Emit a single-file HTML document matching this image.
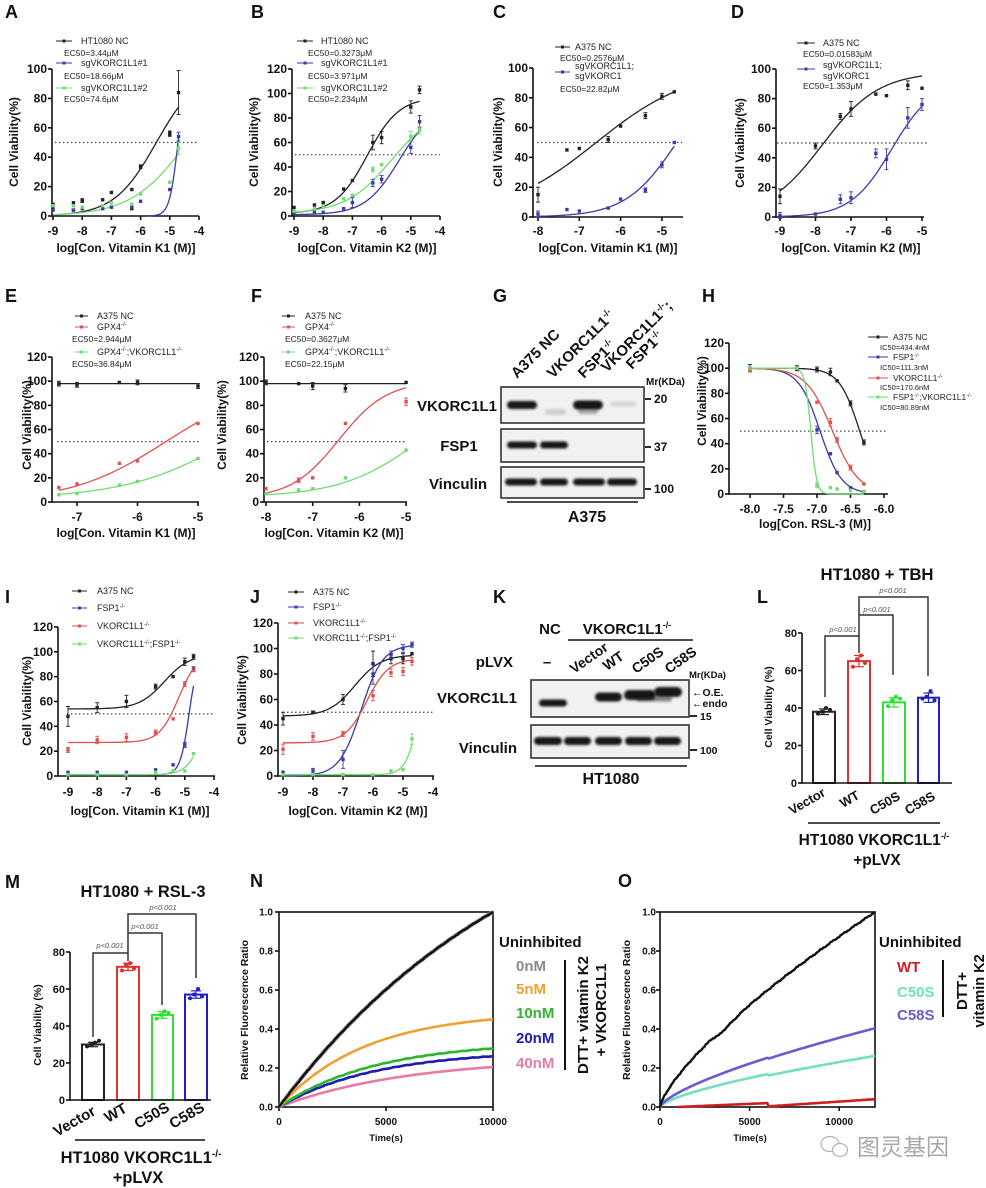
<!DOCTYPE html>
<html><head><meta charset="utf-8">
<style>
html,body{margin:0;padding:0;background:#fff;}
svg{display:block;font-family:"Liberation Sans",Arial,sans-serif;}
.b{font-weight:bold;}
.t{font-size:12px;font-weight:bold;fill:#111;}
.tn{font-size:12px;font-weight:bold;fill:#111;text-anchor:middle;}
.te{font-size:12px;font-weight:bold;fill:#111;text-anchor:end;}
.lg{font-size:9px;fill:#222;}
.ec{font-size:8.5px;fill:#222;}
.yl{font-size:12px;font-weight:bold;fill:#111;text-anchor:middle;}
.xl{font-size:12px;font-weight:bold;fill:#111;text-anchor:middle;}
.let{font-size:18px;font-weight:bold;fill:#111;}
.p{font-size:7.5px;font-style:italic;fill:#555;text-anchor:middle;}
</style></head>
<body>
<svg id="s" width="986" height="1188" viewBox="0 0 986 1188" xmlns="http://www.w3.org/2000/svg">
<defs><filter id="bl" x="-20%" y="-50%" width="140%" height="200%"><feGaussianBlur stdDeviation="1.3"/></filter></defs>
<rect width="986" height="1188" fill="#fff"/>

<!-- Panel letters -->
<text class="let" x="5" y="18">A</text>
<text class="let" x="251" y="18">B</text>
<text class="let" x="493" y="18">C</text>
<text class="let" x="731" y="18">D</text>
<text class="let" x="5" y="302">E</text>
<text class="let" x="251" y="302">F</text>
<text class="let" x="493" y="302">G</text>
<text class="let" x="702" y="302">H</text>
<text class="let" x="5" y="603">I</text>
<text class="let" x="250" y="603">J</text>
<text class="let" x="493" y="603">K</text>
<text class="let" x="757" y="603">L</text>
<text class="let" x="5" y="888">M</text>
<text class="let" x="250" y="887">N</text>
<text class="let" x="618" y="887">O</text>

<!-- ===== A ===== -->
<text class="te" x="47" y="220">0</text><text class="te" x="47" y="190.6">20</text><text class="te" x="47" y="161.2">40</text><text class="te" x="47" y="131.8">60</text><text class="te" x="47" y="102.4">80</text><text class="te" x="47" y="73">100</text>
<text class="tn" x="53" y="235">-9</text><text class="tn" x="82.2" y="235">-8</text><text class="tn" x="111.4" y="235">-7</text><text class="tn" x="140.6" y="235">-6</text><text class="tn" x="169.8" y="235">-5</text><text class="tn" x="199" y="235">-4</text>
<text class="xl" x="126" y="252">log[Con. Vitamin K1 (M)]</text>
<text class="yl" transform="translate(18,142) rotate(-90)">Cell Viability(%)</text>
<text class="lg" x="81" y="44">HT1080 NC</text>
<text class="ec" x="64" y="56">EC50=3.44μM</text>
<text class="lg" x="81" y="66">sgVKORC1L1#1</text>
<text class="ec" x="64" y="79">EC50=18.66μM</text>
<text class="lg" x="81" y="91">sgVKORC1L1#2</text>
<text class="ec" x="64" y="102">EC50=74.6μM</text>

<!-- ===== B ===== -->
<text class="te" x="287" y="220">0</text><text class="te" x="287" y="195.5">20</text><text class="te" x="287" y="171">40</text><text class="te" x="287" y="146.5">60</text><text class="te" x="287" y="122">80</text><text class="te" x="287" y="97.5">100</text><text class="te" x="287" y="73">120</text>
<text class="tn" x="294" y="235">-9</text><text class="tn" x="323.2" y="235">-8</text><text class="tn" x="352.4" y="235">-7</text><text class="tn" x="381.6" y="235">-6</text><text class="tn" x="410.8" y="235">-5</text><text class="tn" x="440" y="235">-4</text>
<text class="xl" x="367" y="252">log[Con. Vitamin K2 (M)]</text>
<text class="yl" transform="translate(258,142) rotate(-90)">Cell Viability(%)</text>
<text class="lg" x="321" y="44">HT1080 NC</text>
<text class="ec" x="308" y="56">EC50=0.3273μM</text>
<text class="lg" x="321" y="66">sgVKORC1L1#1</text>
<text class="ec" x="308" y="79">EC50=3.971μM</text>
<text class="lg" x="321" y="91">sgVKORC1L1#2</text>
<text class="ec" x="308" y="102">EC50=2.234μM</text>

<!-- ===== C ===== -->
<text class="te" x="528" y="221">0</text><text class="te" x="528" y="191.2">20</text><text class="te" x="528" y="161.4">40</text><text class="te" x="528" y="131.6">60</text><text class="te" x="528" y="101.8">80</text><text class="te" x="528" y="72">100</text>
<text class="tn" x="538" y="235">-8</text><text class="tn" x="579.3" y="235">-7</text><text class="tn" x="620.6" y="235">-6</text><text class="tn" x="661.9" y="235">-5</text>
<text class="xl" x="608" y="252">log[Con. Vitamin K1 (M)]</text>
<text class="yl" transform="translate(502,142) rotate(-90)">Cell Viability(%)</text>
<text class="lg" x="575" y="50">A375 NC</text>
<text class="ec" x="560" y="61">EC50=0.2576μM</text>
<text class="lg" x="575" y="69">sgVKORC1L1;</text>
<text class="lg" x="575" y="79">sgVKORC1</text>
<text class="ec" x="560" y="92">EC50=22.82μM</text>

<!-- ===== D ===== -->
<text class="te" x="771" y="221">0</text><text class="te" x="771" y="191.4">20</text><text class="te" x="771" y="161.8">40</text><text class="te" x="771" y="132.2">60</text><text class="te" x="771" y="102.6">80</text><text class="te" x="771" y="73">100</text>
<text class="tn" x="780" y="235">-9</text><text class="tn" x="815.5" y="235">-8</text><text class="tn" x="851" y="235">-7</text><text class="tn" x="886.5" y="235">-6</text><text class="tn" x="922" y="235">-5</text>
<text class="xl" x="851" y="252">log[Con. Vitamin K2 (M)]</text>
<text class="yl" transform="translate(744,143) rotate(-90)">Cell Viability(%)</text>
<text class="lg" x="823" y="46">A375 NC</text>
<text class="ec" x="803" y="57">EC50=0.01583μM</text>
<text class="lg" x="823" y="68">sgVKORC1L1;</text>
<text class="lg" x="823" y="79">sgVKORC1</text>
<text class="ec" x="803" y="89">EC50=1.353μM</text>

<!-- ===== E ===== -->
<text class="te" x="47" y="506">0</text><text class="te" x="47" y="481.8">20</text><text class="te" x="47" y="457.7">40</text><text class="te" x="47" y="433.5">60</text><text class="te" x="47" y="409.4">80</text><text class="te" x="47" y="385.2">100</text><text class="te" x="47" y="361">120</text>
<text class="tn" x="77" y="521">-7</text><text class="tn" x="137.5" y="521">-6</text><text class="tn" x="198" y="521">-5</text>
<text class="xl" x="126" y="537">log[Con. Vitamin K1 (M)]</text>
<text class="yl" transform="translate(31,425) rotate(-90)">Cell Viability(%)</text>
<text class="lg" x="97" y="319">A375 NC</text>
<text class="lg" x="97" y="330">GPX4<tspan dy="-4" font-size="6">-/-</tspan></text>
<text class="ec" x="72" y="342">EC50=2.944μM</text>
<text class="lg" x="97" y="355">GPX4<tspan dy="-4" font-size="6">-/-</tspan><tspan dy="4">;VKORC1L1</tspan><tspan dy="-4" font-size="6">-/-</tspan></text>
<text class="ec" x="72" y="367">EC50=36.84μM</text>

<!-- ===== F ===== -->
<text class="te" x="259" y="506">0</text><text class="te" x="259" y="481.8">20</text><text class="te" x="259" y="457.7">40</text><text class="te" x="259" y="433.5">60</text><text class="te" x="259" y="409.4">80</text><text class="te" x="259" y="385.2">100</text><text class="te" x="259" y="361">120</text>
<text class="tn" x="266" y="521">-8</text><text class="tn" x="312.7" y="521">-7</text><text class="tn" x="359.4" y="521">-6</text><text class="tn" x="406.1" y="521">-5</text>
<text class="xl" x="334" y="537">log[Con. Vitamin K2 (M)]</text>
<text class="yl" transform="translate(226,425) rotate(-90)">Cell Viability(%)</text>
<text class="lg" x="305" y="319">A375 NC</text>
<text class="lg" x="305" y="330">GPX4<tspan dy="-4" font-size="6">-/-</tspan></text>
<text class="ec" x="285" y="342">EC50=0.3627μM</text>
<text class="lg" x="305" y="355">GPX4<tspan dy="-4" font-size="6">-/-</tspan><tspan dy="4">;VKORC1L1</tspan><tspan dy="-4" font-size="6">-/-</tspan></text>
<text class="ec" x="285" y="367">EC50=22.15μM</text>

<!-- ===== G (blot) ===== -->
<g class="b" font-size="15" fill="#111">
<text transform="translate(517,379) rotate(-45)">A375 NC</text>
<text transform="translate(553,379) rotate(-45)">VKORC1L1<tspan dy="-6" font-size="9">-/-</tspan></text>
<text transform="translate(584,379) rotate(-45)">FSP1<tspan dy="-6" font-size="9">-/-</tspan></text>
<text transform="translate(607,373) rotate(-45)">VKORC1L1<tspan dy="-6" font-size="9">-/-</tspan><tspan dy="6">;</tspan></text>
<text transform="translate(632,370) rotate(-45)">FSP1<tspan dy="-6" font-size="9">-/-</tspan></text>
<text x="497" y="411" text-anchor="end">VKORC1L1</text>
<text x="459" y="451" text-anchor="middle">FSP1</text>
<text x="458" y="489" text-anchor="middle">Vinculin</text>
<text x="587" y="522" text-anchor="middle" font-size="16">A375</text>
</g>
<text x="646" y="385" font-size="10" font-weight="bold" fill="#111">Mr(KDa)</text>
<g font-size="12" font-weight="bold" fill="#111">
<text x="654" y="403">20</text><text x="654" y="451">37</text><text x="654" y="493">100</text>
</g>

<!-- ===== H ===== -->
<text class="te" x="724" y="498">0</text><text class="te" x="724" y="472.8">20</text><text class="te" x="724" y="447.7">40</text><text class="te" x="724" y="422.5">60</text><text class="te" x="724" y="397.4">80</text><text class="te" x="724" y="372.2">100</text><text class="te" x="724" y="347">120</text>
<text class="tn" x="750" y="513">-8.0</text><text class="tn" x="783.5" y="513">-7.5</text><text class="tn" x="817" y="513">-7.0</text><text class="tn" x="850.5" y="513">-6.5</text><text class="tn" x="884" y="513">-6.0</text>
<text class="xl" x="815" y="528">log[Con. RSL-3 (M)]</text>
<text class="yl" transform="translate(706,401) rotate(-90)">Cell Viability(%)</text>
<g font-size="8.5" fill="#222">
<text x="893" y="340">A375 NC</text>
<text x="880" y="350" font-size="7.5">IC50=434.4nM</text>
<text x="893" y="360">FSP1<tspan dy="-3" font-size="5.5">-/-</tspan></text>
<text x="880" y="370" font-size="7.5">IC50=111.3nM</text>
<text x="893" y="381">VKORC1L1<tspan dy="-3" font-size="5.5">-/-</tspan></text>
<text x="880" y="390" font-size="7.5">IC50=170.6nM</text>
<text x="893" y="400">FSP1<tspan dy="-3" font-size="5.5">-/-</tspan><tspan dy="3">;VKORC1L1</tspan><tspan dy="-3" font-size="5.5">-/-</tspan></text>
<text x="880" y="410" font-size="7.5">IC50=80.89nM</text>
</g>

<!-- ===== I ===== -->
<text class="te" x="53" y="780">0</text><text class="te" x="53" y="755.2">20</text><text class="te" x="53" y="730.3">40</text><text class="te" x="53" y="705.5">60</text><text class="te" x="53" y="680.6">80</text><text class="te" x="53" y="655.8">100</text><text class="te" x="53" y="631">120</text>
<text class="tn" x="68" y="796">-9</text><text class="tn" x="97.2" y="796">-8</text><text class="tn" x="126.4" y="796">-7</text><text class="tn" x="155.6" y="796">-6</text><text class="tn" x="184.8" y="796">-5</text><text class="tn" x="214" y="796">-4</text>
<text class="xl" x="140" y="815">log[Con. Vitamin K1 (M)]</text>
<text class="yl" transform="translate(31,701) rotate(-90)">Cell Viability(%)</text>
<g font-size="9" fill="#222">
<text x="97" y="594">A375 NC</text>
<text x="97" y="611">FSP1<tspan dy="-3" font-size="6">-/-</tspan></text>
<text x="97" y="629">VKORC1L1<tspan dy="-3" font-size="6">-/-</tspan></text>
<text x="97" y="647">VKORC1L1<tspan dy="-3" font-size="6">-/-</tspan><tspan dy="3">;FSP1</tspan><tspan dy="-3" font-size="6">-/-</tspan></text>
</g>

<!-- ===== J ===== -->
<text class="te" x="273" y="780">0</text><text class="te" x="273" y="754.5">20</text><text class="te" x="273" y="729">40</text><text class="te" x="273" y="703.5">60</text><text class="te" x="273" y="678">80</text><text class="te" x="273" y="652.5">100</text><text class="te" x="273" y="627">120</text>
<text class="tn" x="283" y="796">-9</text><text class="tn" x="313" y="796">-8</text><text class="tn" x="343" y="796">-7</text><text class="tn" x="373" y="796">-6</text><text class="tn" x="403" y="796">-5</text><text class="tn" x="433" y="796">-4</text>
<text class="xl" x="358" y="815">log[Con. Vitamin K2 (M)]</text>
<text class="yl" transform="translate(246,700) rotate(-90)">Cell Viability(%)</text>
<g font-size="9" fill="#222">
<text x="313" y="595">A375 NC</text>
<text x="313" y="610">FSP1<tspan dy="-3" font-size="6">-/-</tspan></text>
<text x="313" y="626">VKORC1L1<tspan dy="-3" font-size="6">-/-</tspan></text>
<text x="313" y="641">VKORC1L1<tspan dy="-3" font-size="6">-/-</tspan><tspan dy="3">;FSP1</tspan><tspan dy="-3" font-size="6">-/-</tspan></text>
</g>

<!-- ===== K (blot) ===== -->
<g font-weight="bold" fill="#111" font-size="15">
<text x="550" y="634" text-anchor="middle">NC</text>
<text x="627" y="634" text-anchor="middle">VKORC1L1<tspan dy="-6" font-size="9">-/-</tspan></text>
<text x="513" y="667" text-anchor="end">pLVX</text>
<text x="547" y="667" text-anchor="middle">–</text>
<text x="517" y="703" text-anchor="end">VKORC1L1</text>
<text x="517" y="753" text-anchor="end">Vinculin</text>
<text x="611" y="784" text-anchor="middle" font-size="16">HT1080</text>
<text transform="translate(574,674) rotate(-35)" font-size="14">Vector</text>
<text transform="translate(607,671) rotate(-35)" font-size="14">WT</text>
<text transform="translate(636,674) rotate(-35)" font-size="14">C50S</text>
<text transform="translate(669,674) rotate(-35)" font-size="14">C58S</text>
</g>
<g font-weight="bold" fill="#111" font-size="10.5">
<text x="689" y="678" font-size="9.5">Mr(KDa)</text>
<text x="692" y="696">←O.E.</text>
<text x="692" y="707">←endo</text>
<text x="700" y="720">15</text>
<text x="700" y="754">100</text>
</g>

<!-- ===== L ===== -->
<text x="877" y="580" text-anchor="middle" font-size="17" font-weight="bold" fill="#111" textLength="113" lengthAdjust="spacingAndGlyphs">HT1080 + TBH</text>
<g font-size="11" font-weight="bold" fill="#111" text-anchor="end">
<text x="797" y="787">0</text><text x="797" y="749.5">20</text><text x="797" y="712">40</text><text x="797" y="674.5">60</text><text x="797" y="637">80</text>
</g>
<text class="yl" transform="translate(772,707) rotate(-90)" style="font-size:10.5px">Cell Viability (%)</text>
<text class="p" x="843" y="632">p&lt;0.001</text>
<text class="p" x="877" y="612">p&lt;0.001</text>
<text class="p" x="893" y="593">p&lt;0.001</text>
<g font-weight="bold" fill="#111" font-size="13">
<text transform="translate(792,815) rotate(-30)">Vector</text>
<text transform="translate(843,808) rotate(-30)">WT</text>
<text transform="translate(873,815) rotate(-30)">C50S</text>
<text transform="translate(908,815) rotate(-30)">C58S</text>
<text x="874" y="845" text-anchor="middle" font-size="15.5">HT1080 VKORC1L1<tspan dy="-6" font-size="9">-/-</tspan></text>
<text x="877" y="865" text-anchor="middle" font-size="15.5">+pLVX</text>
</g>

<!-- ===== M ===== -->
<text x="143" y="897" text-anchor="middle" font-size="16.5" font-weight="bold" fill="#111" textLength="125" lengthAdjust="spacingAndGlyphs">HT1080 + RSL-3</text>
<g font-size="11" font-weight="bold" fill="#111" text-anchor="end">
<text x="65" y="1104">0</text><text x="65" y="1067">20</text><text x="65" y="1030">40</text><text x="65" y="993">60</text><text x="65" y="956">80</text>
</g>
<text class="yl" transform="translate(41,1025) rotate(-90)" style="font-size:10.5px">Cell Viability (%)</text>
<text class="p" x="110" y="948">p&lt;0.001</text>
<text class="p" x="145" y="929">p&lt;0.001</text>
<text class="p" x="163" y="910">p&lt;0.001</text>
<g font-weight="bold" fill="#111" font-size="15">
<text transform="translate(57,1137) rotate(-30)">Vector</text>
<text transform="translate(108,1123) rotate(-30)">WT</text>
<text transform="translate(138,1129) rotate(-30)">C50S</text>
<text transform="translate(173,1129) rotate(-30)">C58S</text>
<text x="141" y="1163" text-anchor="middle" font-size="16.5">HT1080 VKORC1L1<tspan dy="-6" font-size="10">-/-</tspan></text>
<text x="138" y="1183" text-anchor="middle" font-size="16.5">+pLVX</text>
</g>

<!-- ===== N ===== -->
<g font-size="10" font-weight="bold" fill="#111" text-anchor="end">
<text x="273" y="1110.5">0.0</text><text x="273" y="1071.5">0.2</text><text x="273" y="1032.5">0.4</text><text x="273" y="993.5">0.6</text><text x="273" y="954.5">0.8</text><text x="273" y="915.5">1.0</text>
</g>
<g font-size="10" font-weight="bold" fill="#111" text-anchor="middle">
<text x="279" y="1125">0</text><text x="386" y="1125">5000</text><text x="493" y="1125">10000</text>
<text x="386" y="1141" font-size="9.5">Time(s)</text>
</g>
<text transform="translate(248,1010) rotate(-90)" text-anchor="middle" font-size="10.5" font-weight="bold" fill="#111">Relative Fluorescence Ratio</text>
<g font-weight="bold" font-size="15">
<text x="499" y="947" fill="#111">Uninhibited</text>
<text x="516" y="971" fill="#8a8a8a">0nM</text>
<text x="516" y="994" fill="#f0a030">5nM</text>
<text x="516" y="1018" fill="#2db52d">10nM</text>
<text x="516" y="1043" fill="#1c1cb0">20nM</text>
<text x="516" y="1068" fill="#e87aa8">40nM</text>
<text transform="translate(588,1015) rotate(-90)" text-anchor="middle" font-size="15" fill="#111">DTT+ vitamin K2</text>
<text transform="translate(606,1010) rotate(-90)" text-anchor="middle" font-size="15" fill="#111">+ VKORC1L1</text>
</g>

<!-- ===== O ===== -->
<g font-size="10" font-weight="bold" fill="#111" text-anchor="end">
<text x="656" y="1110.5">0.0</text><text x="656" y="1071.5">0.2</text><text x="656" y="1032.5">0.4</text><text x="656" y="993.5">0.6</text><text x="656" y="954.5">0.8</text><text x="656" y="915.5">1.0</text>
</g>
<g font-size="10" font-weight="bold" fill="#111" text-anchor="middle">
<text x="660" y="1125">0</text><text x="749.6" y="1125">5000</text><text x="839.2" y="1125">10000</text>
<text x="750" y="1141" font-size="9.5">Time(s)</text>
</g>
<text transform="translate(630,1010) rotate(-90)" text-anchor="middle" font-size="10.5" font-weight="bold" fill="#111">Relative Fluorescence Ratio</text>
<g font-weight="bold" font-size="15">
<text x="879" y="947" fill="#111">Uninhibited</text>
<text x="897" y="972" fill="#cc2020">WT</text>
<text x="897" y="997" fill="#6fe0c0">C50S</text>
<text x="897" y="1020" fill="#6a5ccc">C58S</text>
<text transform="translate(967,991) rotate(-90)" text-anchor="middle" font-size="15" fill="#111">DTT+</text>
<text transform="translate(984,991) rotate(-90)" text-anchor="middle" font-size="14.5" fill="#111">vitamin K2</text>
</g>
<!-- watermark -->
<g fill="none" stroke="#b0b0b0" stroke-width="1.2">
<ellipse cx="830" cy="1144" rx="9" ry="7.5"/>
<ellipse cx="840" cy="1150" rx="7.5" ry="6.5" fill="#fff"/>
</g>
<text x="857" y="1155" font-family="'Liberation Sans','Noto Sans CJK SC',sans-serif" font-size="23" fill="#a8a8a8">图灵基因</text>

<g id="geo"></g>
</svg>

<script>
(function(){
const NS='http://www.w3.org/2000/svg';
const G=document.getElementById('geo');
function E(t,a){const e=document.createElementNS(NS,t);for(const k in a)e.setAttribute(k,a[k]);G.appendChild(e);return e;}
function L(x1,y1,x2,y2,c,w,ex){const o={x1:x1,y1:y1,x2:x2,y2:y2,stroke:c||'#111','stroke-width':w||1.6};if(ex)for(const k in ex)o[k]=ex[k];return E('line',o);}
function P(x0,xv0,bx,y0,by){return{X:function(v){return x0+(v-xv0)*bx;},Y:function(v){return y0-v*by;}};}
function sig(b,t,ec,h){return function(x){return b+(t-b)/(1+Math.pow(10,(ec-x)*h));};}
function cst(v){return function(){return v;};}
function curve(p,f,a,b,c,w){let d='';const n=100;for(let i=0;i<=n;i++){const x=a+(b-a)*i/n;d+=(i?'L':'M')+p.X(x).toFixed(1)+' '+p.Y(f(x)).toFixed(1);}E('path',{d:d,fill:'none',stroke:c,'stroke-width':w||1.3});}
function pts(p,arr,c){arr.forEach(function(q){const x=p.X(q[0]),y=p.Y(q[1]);if(q[2]){const a=p.Y(q[1]+q[2]),b=p.Y(q[1]-q[2]);L(x,a,x,b,c,0.9);L(x-2,a,x+2,a,c,0.9);L(x-2,b,x+2,b,c,0.9);}E('rect',{x:x-1.7,y:y-1.7,width:3.4,height:3.4,fill:c});});}
function axes(p,ax,ymax,ystep,xe,xt){L(ax,p.Y(0)+0.8,ax,p.Y(ymax));for(let v=0;v<=ymax+1e-6;v+=ystep)L(ax-4,p.Y(v),ax,p.Y(v));L(ax,p.Y(0),xe,p.Y(0));xt.forEach(function(v){L(p.X(v),p.Y(0),p.X(v),p.Y(0)+4);});}
function dash(p,a,b){L(a,p.Y(50),b,p.Y(50),'#444',1.2,{'stroke-dasharray':'1.5 2.5'});}
function leg(x1,x2,y,c){L(x1,y,x2,y,c,1);E('rect',{x:(x1+x2)/2-1.5,y:y-1.5,width:3,height:3,fill:c});}
const K='#222',BL='#3a3aa8',GR='#72dc72',RD='#e05050';

// A
let p=P(53,-9,29.2,216,1.47);
axes(p,52,100,20,199,[-9,-8,-7,-6,-5,-4]);dash(p,55,199);
curve(p,sig(0,100,-5.46,0.6),-9,-4.7,K);curve(p,sig(0,100,-4.4,0.45),-9,-4.7,GR);curve(p,sig(0,100,-4.72,3),-5.8,-4.7,BL);
pts(p,[[-9,8],[-9,5],[-8.3,9],[-8.3,4],[-8,11],[-8,10],[-7.3,11],[-7,16],[-6.3,18],[-6.3,5],[-6,33],[-6,34],[-5,55],[-5,57],[-4.7,84,15]],K);
pts(p,[[-9,4],[-8.3,4],[-8,5],[-7.3,5],[-7,6],[-6.3,6],[-6,10],[-5,18],[-4.7,54,3]],BL);
pts(p,[[-9,7],[-8.3,7],[-8,6],[-7.3,7],[-7,9],[-6.3,8],[-6,15],[-5,23],[-4.7,46,4]],GR);
leg(56,72,41,K);leg(56,72,63,BL);leg(56,72,88,GR);

// B
p=P(294,-9,29.2,216,1.225);
axes(p,292,120,20,440,[-9,-8,-7,-6,-5,-4]);dash(p,295,440);
curve(p,sig(2,97,-6.49,0.8),-9,-4.7,K);curve(p,sig(1,90,-5.4,0.75),-9,-4.7,BL);curve(p,sig(2,90,-5.65,0.55),-9,-4.7,GR);
pts(p,[[-9,7],[-8.3,9],[-8,11],[-7.3,22],[-7,29],[-6.3,60,6],[-6,64,5],[-5,89,5],[-4.7,103,3]],K);
pts(p,[[-9,2],[-8.3,3],[-8,3],[-7.3,6],[-7,11,4],[-6.3,27,3],[-6,30,3],[-5,56,5],[-4.7,77,5]],BL);
pts(p,[[-9,4],[-8.3,6],[-8,8],[-7.3,14],[-7,17],[-6.3,38,2],[-6,42],[-5,65,4],[-4.7,70,3]],GR);
leg(297,313,41,K);leg(297,313,63,BL);leg(297,313,88,GR);

// C
p=P(538,-8,41.3,217,1.49);
axes(p,533,100,20,683,[-8,-7,-6,-5]);dash(p,537,682);
curve(p,sig(0,100,-6.59,0.38),-8,-4.7,K);curve(p,sig(0,100,-4.64,0.7),-8,-4.7,BL);
pts(p,[[-8,15,5],[-7.3,45],[-7,46],[-6.3,52,2],[-6,61],[-5.4,68,2],[-5,81,2],[-4.7,84]],K);
pts(p,[[-8,2,2],[-7.3,5],[-7,4],[-6.3,6],[-6,12],[-5.4,18,1.5],[-5,35,2],[-4.7,50]],BL);
leg(555,570,47,K);leg(555,570,72,BL);

// D
p=P(780,-9,35.5,217,1.48);
axes(p,776,100,20,924,[-9,-8,-7,-6,-5]);dash(p,777,927);
curve(p,sig(0,98,-7.8,0.55),-9,-5,K);curve(p,sig(0,92,-5.85,0.75),-9,-5,BL);
pts(p,[[-9,14,5],[-8,48,2],[-7.3,68,2],[-7,73,5],[-6.3,83],[-6,82],[-5.4,89,3],[-5,87]],K);
pts(p,[[-9,1,2],[-8,2],[-7.3,12,3],[-7,13,4],[-6.3,43,3],[-6,39,7],[-5.4,67,7],[-5,76,4]],BL);
leg(797,815,43,K);leg(797,815,69,BL);

// E
p=P(77,-7,60.5,502,1.208);
axes(p,52,120,20,199,[-7,-6,-5]);dash(p,57,200);
curve(p,cst(98),-7.3,-5,K);curve(p,sig(0,100,-5.53,0.55),-7.3,-5,RD);curve(p,sig(3,100,-4.43,0.5),-7.3,-5,GR);
pts(p,[[-7.3,98,2],[-7,97,2],[-6.3,99],[-6,99,2],[-5,96,2]],K);
pts(p,[[-7.3,12],[-7,15],[-6.3,32],[-6,34],[-5,65]],RD);
pts(p,[[-7.3,6],[-7,7],[-6.3,14],[-6,17],[-5,36]],GR);
leg(75,88,316,K);leg(75,88,327,RD);leg(75,88,352,GR);

// F
p=P(266,-8,46.7,502,1.208);
axes(p,264,120,20,407,[-8,-7,-6,-5]);dash(p,267,405);
curve(p,cst(98),-8,-5,K);curve(p,sig(3,100,-6.44,0.85),-8,-5,RD);curve(p,sig(4,100,-4.65,0.5),-8,-5,GR);
pts(p,[[-8,99,2],[-7.3,98],[-7,96,3],[-6.3,94,3],[-5,99]],K);
pts(p,[[-8,11],[-7.3,18,2],[-7,20],[-6.3,65],[-5,83,3]],RD);
pts(p,[[-8,7],[-7.3,10],[-7,11],[-6.3,20],[-5,43]],GR);
leg(282,295,316,K);leg(282,295,327,RD);leg(282,295,352,GR);

// H
p=P(750,-8,67,494,1.258);
axes(p,729,120,20,888,[-8,-7.5,-7,-6.5,-6]);dash(p,740,888);
curve(p,sig(0,100,-6.362,-2.84),-8,-6.3,K);curve(p,sig(0,100,-6.954,-2.7),-8,-6.3,BL);curve(p,sig(0,100,-6.768,-2.2),-8,-6.3,RD);curve(p,sig(0,100,-7.092,-10),-8,-6.3,GR);
pts(p,[[-8,100,3],[-7.3,100,2],[-7,99,2],[-6.8,97,3],[-6.7,90],[-6.5,72,2],[-6.3,41,2]],K);
pts(p,[[-8,100],[-7.3,100],[-7,51,3],[-6.8,32],[-6.7,17],[-6.5,5],[-6.3,2]],BL);
pts(p,[[-8,98],[-7.3,100],[-7,73],[-6.8,57,3],[-6.7,43,2],[-6.5,21,2],[-6.3,8]],RD);
pts(p,[[-8,100],[-7.3,100],[-7,7,2],[-6.8,5],[-6.7,4],[-6.5,3],[-6.3,2]],GR);
leg(868,888,337,K);leg(868,888,357,BL);leg(868,888,378,RD);leg(868,888,397,GR);

// I
p=P(68,-9,29.2,776,1.242);
axes(p,58,120,20,215,[-9,-8,-7,-6,-5,-4]);dash(p,67,213);
curve(p,sig(54,98,-5.7,1),-9,-4.7,K);curve(p,sig(27,100,-5.2,1.3),-9,-4.7,RD);curve(p,sig(1,100,-4.85,2.8),-9,-4.7,BL);curve(p,sig(1,100,-4.2,1.5),-9,-4.7,GR);
pts(p,[[-9,48,8],[-8,55,4],[-7,60,5],[-6,72,2],[-5.4,80],[-5,92,3],[-4.7,96,2]],K);
pts(p,[[-9,3],[-8,3],[-7,3],[-6,5],[-5.4,9],[-5,25,2],[-4.7,86,2]],BL);
pts(p,[[-9,21,2],[-8,29,3],[-7,31,3],[-6,35,2],[-5.4,46],[-5,74,2],[-4.7,85]],RD);
pts(p,[[-9,1],[-8,1],[-7,1],[-6,3],[-5.4,4],[-5,4],[-4.7,18]],GR);
leg(72,87,591,K);leg(72,87,608,BL);leg(72,87,626,RD);leg(72,87,644,GR);

// J
p=P(283,-9,30,776,1.275);
axes(p,278,120,20,434,[-9,-8,-7,-6,-5,-4]);dash(p,283,433);
curve(p,sig(47,95,-6.6,1),-9,-4.7,K);curve(p,sig(0,103,-6.4,1.2),-9,-4.7,BL);curve(p,sig(26,92,-6.2,1.2),-9,-4.7,RD);curve(p,sig(1,100,-4.45,2),-9,-4.7,GR);
pts(p,[[-9,45,5],[-8,50,1],[-7,60,4],[-6,88,10],[-5.4,92,4],[-5,92,4],[-4.7,96]],K);
pts(p,[[-9,3],[-8,4,2],[-7,13,7],[-6,80,8],[-5.4,95,3],[-5,100,3],[-4.7,103,2]],BL);
pts(p,[[-9,21,4],[-8,31,3],[-7,33,2],[-6,63,4],[-5.4,81,3],[-5,82,3],[-4.7,90,3]],RD);
pts(p,[[-9,1],[-8,1],[-7,1],[-6,1],[-5.4,4],[-5,5],[-4.7,29,4]],GR);
leg(288,304,592,K);leg(288,304,607,BL);leg(288,304,623,RD);leg(288,304,638,GR);

// Blots
function box(x1,y1,x2,y2){E('rect',{x:x1,y:y1,width:x2-x1,height:y2-y1,fill:'#f1f1f1',stroke:'#333','stroke-width':1.6});}
function band(x1,x2,y,h,op,c){E('rect',{x:x1,y:y-h/2,width:x2-x1,height:h,rx:h/2,fill:c||'#151515','fill-opacity':op||1,filter:'url(#bl)'});}
// G
box(501,387,644,423);box(501,429,644,462);box(501,467,644,498);
band(507,537,405,8);band(545,566,412,6,0.15);band(573,603,405,9);band(578,598,411,6,0.35);band(610,636,404,5,0.12);
band(507,537,445,7);band(540,568,445,7);
band(505,537,482,7);band(540,568,482,7);band(573,605,482,7);band(607,637,482,7);
L(645,399,651,399,'#111',1.8);L(645,447,651,447,'#111',1.8);L(645,489,651,489,'#111',1.8);
L(507,502,638,502,'#111',1.4);
// K
box(531,680,689,717);box(531,725,689,758);
band(539,567,703,7);band(595,622,697,9);band(624,656,695,10);band(654,682,692,10);band(636,672,699,5,0.5);
band(534,562,741,8);band(564,591,741,8);band(595,622,741,8);band(625,652,741,8);band(654,681,741,8);
L(690,716,697,716,'#111',1.8);L(690,750,697,750,'#111',1.8);
L(568,640,693,640,'#111',1.4);L(535,766,687,766,'#111',1.4);

// Bars
function bars(y0,by,ax,xe,ymax,list){
 L(ax,y0+0.8,ax,y0-ymax*by,'#111',1.6);for(let v=0;v<=ymax;v+=20)L(ax-4,y0-v*by,ax,y0-v*by,'#111',1.6);
 list.forEach(function(b){const x1=b[0],x2=b[1],v=b[2],c=b[3];E('rect',{x:x1,y:y0-v*by,width:x2-x1,height:v*by,fill:'#fff',stroke:c,'stroke-width':2});
  const cx=(x1+x2)/2;const e=b[5];L(cx,y0-(v+e)*by,cx,y0-(v-e)*by,c,1.2);L(cx-5,y0-(v+e)*by,cx+5,y0-(v+e)*by,c,1.2);L(cx-5,y0-(v-e)*by,cx+5,y0-(v-e)*by,c,1.2);
  b[4].forEach(function(d,i){E('circle',{cx:cx-6+i*4,cy:y0-d*by,r:2,fill:c});});});
 L(ax,y0,xe,y0,'#111',1.6);}
bars(783,1.875,802,952,80,[[813,835,38,'#222',[37,38,40,39],1.5],[848,870,65,'#e03030',[62,66,68,64],3],[883,905,43,'#30e030',[41,44,46,45],2.5],[918,939,45.5,'#2020c0',[45,46,49,44],2.5]]);
bars(1100,1.85,70,211,80,[[82,104,30,'#222',[29,30,31,32],1.2],[117,139,72,'#e03030',[70,73,74,71],2],[152,173,46,'#30e030',[44,46,48,47],1.8],[185,207,57,'#2020c0',[55,57,60,56],2]]);
// brackets L
function br(pts){let d='';pts.forEach(function(q,i){d+=(i?'L':'M')+q[0]+' '+q[1];});E('path',{d:d,fill:'none',stroke:'#333','stroke-width':1.5});}
br([[825,697],[825,636],[859,636],[859,653]]);
br([[859,636],[859,615],[893,615],[893,675]]);
br([[859,615],[859,597],[928,597],[928,676]]);
L(808,823,940,823,'#111',1.4);
// brackets M
br([[93,1037],[93,953],[128,953],[128,961]]);
br([[128,953],[128,933],[162,933],[162,1005]]);
br([[128,933],[128,914],[196,914],[196,978]]);
L(75,1140,205,1140,'#111',1.4);

// N
function frame(x1,x2,y1,y2,tx){E('rect',{x:x1,y:y1,width:x2-x1,height:y2-y1,fill:'none',stroke:'#111','stroke-width':1.6});
 for(let i=0;i<=5;i++)L(x1-4,y2-i*(y2-y1)/5,x1,y2-i*(y2-y1)/5,'#111',1.6);tx.forEach(function(x){L(x,y2,x,y2+4,'#111',1.6);});}
frame(279,493,912,1107,[279,386,493]);
function kin(x0,sx,f,a,b,c,w,noise){let d='';const n=150;for(let i=0;i<=n;i++){const t=a+(b-a)*i/n;let v=f(t);if(noise)v+=noise*Math.sin(i*1.7)*Math.cos(i*0.9);d+=(i?'L':'M')+(x0+t*sx).toFixed(1)+' '+(1107-v*195).toFixed(1);}E('path',{d:d,fill:'none',stroke:c,'stroke-width':w||2.6,'stroke-linejoin':'round'});}
const sN=214/10000;
function ex(A,tau){return function(t){return A*(1-Math.exp(-t/tau));};}
kin(279,sN,function(t){return (1-Math.exp(-t/12000))/(1-Math.exp(-10000/12000));},0,10000,'#8a8a8a',4);
kin(279,sN,ex(0.253,6000),0,10000,'#e87aa8',2.6);
kin(279,sN,ex(0.292,4500),0,10000,'#1c1cb0',2.6,0.002);
kin(279,sN,ex(0.337,4500),0,10000,'#2db52d',2.6,0.002);
kin(279,sN,ex(0.49,4000),0,10000,'#f0a030',2.6);
kin(279,sN,function(t){return (1-Math.exp(-t/12000))/(1-Math.exp(-10000/12000));},0,10000,'#111',2.4,0.003);
L(565,960,565,1070,'#111',2);

// O
frame(660,875,912,1107,[660,749.6,839.2]);
const sO=215/12000;
kin(660,sO,function(t){return t<1000?0:(t<6000?0.02*(t-1000)/5000:0.003+0.037*(t-6000)/6000);},1000,12000,'#cc2020',2.6);
kin(660,sO,function(t){let v=0.27*Math.pow(t/12000,0.68);if(t>6000)v-=0.008;return v;},0,12000,'#6fe0c0',2.6);
kin(660,sO,function(t){let v=0.41*Math.pow(t/12000,0.7);if(t>6000)v-=0.006;return v;},0,12000,'#6a5ccc',2.6);
kin(660,sO,function(t){let v=Math.pow(t/12000,0.74);if(t>2900&&t<3300)v-=(t-2900)*0.00004;if(t>=3300)v-=0.016*Math.max(0,1-(t-3300)/1500);return v;},0,12000,'#111',2.4,0.004);
L(943,960,943,1017,'#111',2);
})();
</script>
</body></html>
